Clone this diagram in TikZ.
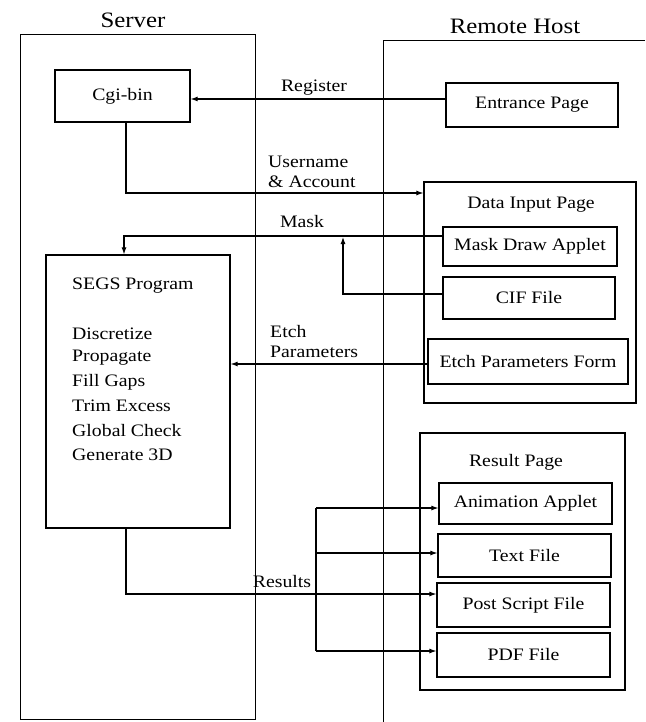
\documentclass[tikz,border=0pt]{standalone}
\usepackage{fontspec}
\setmainfont{Liberation Serif}[FakeStretch=1.13]
\usetikzlibrary{arrows.meta}
\begin{document}
\begin{tikzpicture}[x=1pt,y=-1pt,
  box/.style={draw,line width=1.2pt,inner sep=0pt,font=\rmfamily\fontsize{17.5}{20}\selectfont},
  lbl/.style={inner sep=0pt,font=\rmfamily\fontsize{17.5}{20}\selectfont},
  ttl/.style={inner sep=0pt,font=\rmfamily\fontsize{22}{25}\selectfont},
  conn/.style={line width=1.1pt},
  arr/.style={line width=1.1pt,-{Latex[length=7pt,width=5pt]}}]
\useasboundingbox (0,0) rectangle (645,722);
% outer regions
\draw[line width=0.9pt] (20,34) rectangle (255,719);
\node[ttl] (srv) at (133,20) {Server};
\draw[line width=0.9pt] (383,722) -- (383,40) -- (645,40);
\node[ttl] (rh) at (515,26) {Remote Host};
% server boxes
\node[box,minimum width=135pt,minimum height=52pt] (cgi) at (122.5,96) {Cgi-bin};
\node[box,minimum width=184pt,minimum height=273pt] (segs) at (138,391.5) {};
\node[lbl,anchor=west] (segst) at (72,286) {SEGS Program};
\node[lbl,anchor=west] (s1) at (72,334) {Discretize};
\node[lbl,anchor=west] (s2) at (72,358) {Propagate};
\node[lbl,anchor=west] (s3) at (72,382) {Fill Gaps};
\node[lbl,anchor=west] (s4) at (72,406) {Trim Excess};
\node[lbl,anchor=west] (s5) at (72,431) {Global Check};
\node[lbl,anchor=west] (s6) at (72,455) {Generate 3D};
% remote boxes
\node[box,minimum width=172pt,minimum height=44pt] (ent) at (532,105) {Entrance Page};
\node[box,minimum width=212pt,minimum height=221pt] (dip) at (530,292.5) {};
\node[lbl] (dipt) at (531,205) {Data Input Page};
\node[box,minimum width=174pt,minimum height=39pt] (mask) at (530,246.5) {Mask Draw Applet};
\node[box,minimum width=172pt,minimum height=42pt] (cif) at (529,298) {CIF File};
\node[box,minimum width=200pt,minimum height=45pt] (form) at (528,361.5) {Etch Parameters Form};
\node[box,minimum width=205pt,minimum height=257pt] (res) at (522.5,561.5) {};
\node[lbl] (rest) at (516,462) {Result Page};
\node[box,minimum width=173pt,minimum height=41pt] (anim) at (525.5,503.5) {Animation Applet};
\node[box,minimum width=173pt,minimum height=43pt] (txt) at (524.5,555.5) {Text File};
\node[box,minimum width=173pt,minimum height=44pt] (ps) at (523.5,605) {Post Script File};
\node[box,minimum width=173pt,minimum height=44pt] (pdf) at (523.5,655) {PDF File};
% connectors
\coordinate (rg) at (300,99);
\draw[arr] (ent.west |- rg) -- (cgi.east |- rg);
\node[lbl] (reglbl) at (314,88) {Register};
\coordinate (ua) at (126,193);
\draw[arr] (cgi.south -| ua) -- (ua) -- (dip.west |- ua);
\node[lbl,anchor=west,align=left] (ulbl) at (268,172) {Username\\\& Account};
\coordinate (mk) at (124,236);
\draw[arr] (mask.west |- mk) -- (mk) -- (segs.north -| mk);
\node[lbl] (mlbl) at (302,222) {Mask};
\coordinate (cf) at (343,294);
\coordinate (cft) at (343,237);
\draw[arr] (cif.west |- cf) -- (cf) -- (cft);
\coordinate (et) at (300,364);
\draw[arr] (form.west |- et) -- (segs.east |- et);
\node[lbl,anchor=west,align=left] (elbl) at (270,342) {Etch\\Parameters};
\coordinate (rs) at (126,594);
\coordinate (b1) at (316,508);
\coordinate (b2) at (316,553);
\coordinate (b3) at (316,594);
\coordinate (b4) at (316,651);
\draw[arr] (segs.south -| rs) -- (rs) -- (ps.west |- rs);
\draw[conn] (b1) -- (b4);
\draw[arr] (b1) -- (anim.west |- b1);
\draw[arr] (b2) -- (txt.west |- b2);
\draw[arr] (b4) -- (pdf.west |- b4);
\node[lbl] (rlbl) at (282,582) {Results};
\end{tikzpicture}
\end{document}
